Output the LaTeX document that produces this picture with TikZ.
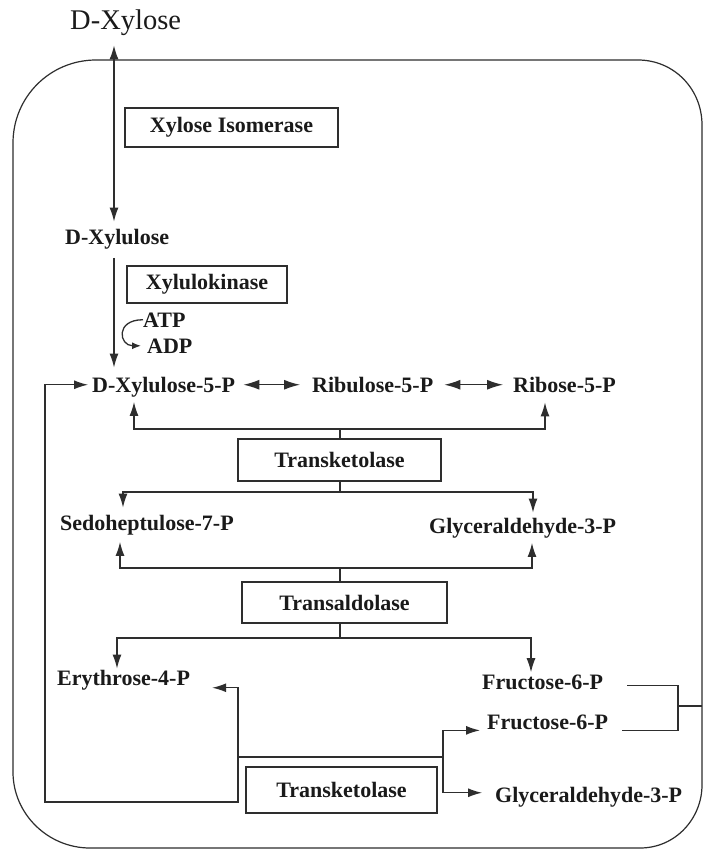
\documentclass[tikz,border=0pt]{standalone}
\usepackage{fontspec}
\setmainfont{Liberation Serif}
\usetikzlibrary{arrows.meta}
\definecolor{ink}{HTML}{1A1A1A}
\definecolor{wire}{HTML}{2E2E2E}
\tikzset{
  lbl/.style={anchor=base west, inner sep=0pt, font=\rmfamily\fontsize{22}{26}\selectfont\bfseries, text=ink},
  enz/.style={draw=wire, line width=1.2pt, inner sep=0pt, font=\rmfamily\fontsize{22}{26}\selectfont\bfseries, text=ink},
  conn/.style={draw=wire, line width=1.3pt},
  arr/.style={conn, -{Latex[length=14pt,width=9pt]}},
  arrb/.style={conn, {Latex[length=14pt,width=9pt]}-{Latex[length=14pt,width=9pt]}},
  eqarr/.style={conn, {Latex[length=16pt,width=10pt]}-{Latex[length=16pt,width=10pt]}},
  wall/.style={draw=wire, line width=1.2pt}
}
\begin{document}
\begin{tikzpicture}[x=1pt,y=-1pt]
\useasboundingbox[fill=white] (0,0) rectangle (703,851);
% cell wall
\draw[wall] (96,60) -- (638,60) .. controls (674,60) and (702,89) .. (702,125)
  -- (702,785) .. controls (702,818) and (676,848) .. (640,848)
  -- (90,848) .. controls (48,848) and (13,814) .. (13,772)
  -- (13,143) .. controls (13,97) and (50,60) .. (96,60) -- cycle;

% nodes
\node[lbl, font=\rmfamily\fontsize{28.5}{32}\selectfont\mdseries] (xylose) at (70,30) {D-Xylose};
\node[enz, minimum width=213pt, minimum height=39pt] (xi) at (231.5,127.5) {Xylose Isomerase};
\node[lbl] (xylulose) at (65,244) {D-Xylulose};
\node[enz, minimum width=160pt, minimum height=37pt] (xk) at (207,284.5) {Xylulokinase};
\node[lbl] (atp) at (143,327) {ATP};
\node[lbl] (adp) at (147,353) {ADP};
\node[lbl] (x5p) at (92,392) {D-Xylulose-5-P};
\node[lbl] (ru5p) at (312,392) {Ribulose-5-P};
\node[lbl] (r5p) at (513,392) {Ribose-5-P};
\node[enz, minimum width=203pt, minimum height=42pt] (tk1) at (339.5,460) {Transketolase};
\node[lbl] (s7p) at (60,530) {Sedoheptulose-7-P};
\node[lbl] (g3p1) at (429,533) {Glyceraldehyde-3-P};
\node[enz, minimum width=205pt, minimum height=41pt] (ta) at (344.5,602.5) {Transaldolase};
\node[lbl] (e4p) at (57,685) {Erythrose-4-P};
\node[lbl] (f6p1) at (482,689) {Fructose-6-P};
\node[lbl] (f6p2) at (487,729) {Fructose-6-P};
\node[enz, minimum width=191pt, minimum height=46pt] (tk2) at (341.5,790) {Transketolase};
\node[lbl] (g3p2) at (495,802) {Glyceraldehyde-3-P};

% helper coordinates
\coordinate (xv) at (114,0);
\coordinate (xa) at (134,0);
\coordinate (xb) at (545,0);
\coordinate (xc) at (123,0);
\coordinate (xd) at (533,0);
\coordinate (xe) at (120,0);
\coordinate (xf) at (532,0);
\coordinate (xg) at (117,0);
\coordinate (xh) at (531,0);
\coordinate (xm) at (340,0);
\coordinate (ya) at (0,429);
\coordinate (yb) at (0,492);
\coordinate (yc) at (0,568);
\coordinate (yd) at (0,638);
\coordinate (cL) at (45,802);
\coordinate (cR) at (238,802);
\coordinate (cJ1) at (238,757);
\coordinate (cJ2) at (443,757);
\coordinate (cB) at (678,706);
\coordinate (cW) at (702,706);

% xylose -> xylulose -> xylulose-5-P
\draw[arrb, shorten <=9pt, shorten >=7pt] (xylose.south -| xv) -- (xylulose.north -| xv);
\draw[arr, shorten <=9pt, shorten >=9pt] (xylulose.south -| xv) -- (x5p.north -| xv);
\draw[conn, -{Latex[length=9pt,width=7pt]}, shorten >=6pt] (atp.west) to[out=180, in=180, distance=28pt] (adp.west);

% row equilibria
\draw[eqarr, shorten <=8pt, shorten >=12pt] ([yshift=2pt]x5p.east) -- ([yshift=2pt]x5p.east -| ru5p.west);
\draw[eqarr, shorten <=11pt, shorten >=10pt] ([yshift=2pt]x5p.east -| ru5p.east) -- ([yshift=2pt]x5p.east -| r5p.west);

% transketolase 1
\draw[conn] (tk1.north -| xm) -- (xm |- ya);
\draw[arr, shorten >=5pt] (xm |- ya) -| (x5p.south -| xa);
\draw[arr, shorten >=10pt] (xm |- ya) -| (r5p.south -| xb);
\draw[conn] (tk1.south -| xm) -- (xm |- yb);
\draw[arr, shorten >=7pt] (xm |- yb) -| (s7p.north -| xc);
\draw[arr, shorten >=5pt] (xm |- yb) -| (g3p1.north -| xd);

% transaldolase
\draw[conn] (ta.north -| xm) -- (xm |- yc);
\draw[arr, shorten >=7pt] (xm |- yc) -| (s7p.south -| xe);
\draw[arr, shorten >=5pt] (xm |- yc) -| (g3p1.south -| xf);
\draw[conn] (ta.south -| xm) -- (xm |- yd);
\draw[arr, shorten >=1pt] (xm |- yd) -| (e4p.north -| xg);
\draw[arr, shorten >=2pt] (xm |- yd) -| (f6p1.north -| xh);

% transketolase 2 and feedback
\draw[arrb, shorten <=4pt, shorten >=22pt] ([yshift=2pt]x5p.west) -| (cL) -- (cR) |- ([yshift=-8pt]e4p.east);
\draw[conn] (cJ1) -- (cJ2);
\draw[arr, shorten >=7pt] (cJ2) |- ([yshift=-8.5pt]f6p2.west);
\draw[arr, shorten >=13pt] (cJ2) |- ([yshift=4pt]g3p2.west);

% bracket to glycolysis
\draw[conn] ([shift={(24pt,-3.5pt)}]f6p1.east) -| (cB);
\draw[conn] ([shift={(14pt,-8.5pt)}]f6p2.east) -| (cB);
\draw[conn] (cB) -- (cW);
\end{tikzpicture}
\end{document}
